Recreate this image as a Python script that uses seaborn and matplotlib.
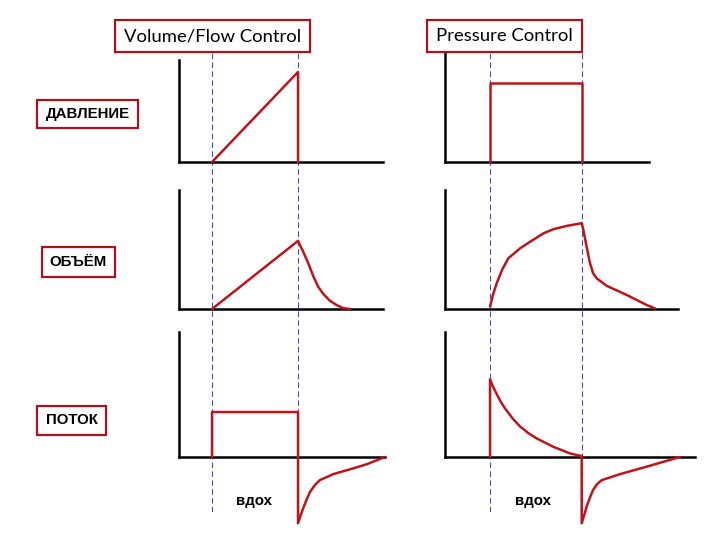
import matplotlib
matplotlib.use("Agg")
import matplotlib.pyplot as plt
import seaborn as sns
from matplotlib.patches import Rectangle

# waveforms, time in s (inspiration 0..2), values in arbitrary units
vc_press_t = [0, 2, 2]
vc_press_v = [0, 3.0, 0]

pc_press_t = [0, 0, 2, 2]
pc_press_v = [0, 2.63, 2.63, 0]

vc_vol_t = [0, 2.0, 2.12, 2.24, 2.36, 2.47, 2.59, 2.74, 2.9, 3.05, 3.21]
vc_vol_v = [0, 2.27, 1.91, 1.52, 1.08, 0.74, 0.5, 0.28, 0.13, 0.03, 0]

pc_vol_t = [0, 0.07, 0.145, 0.27, 0.398, 0.652, 0.87, 1.159, 1.377, 1.667, 1.993,
            2.03, 2.1, 2.17, 2.24, 2.32, 2.54, 2.97, 3.41, 3.59]
pc_vol_v = [0.08, 0.5, 0.86, 1.33, 1.69, 2.02, 2.24, 2.52, 2.66, 2.77, 2.86,
            2.63, 2.08, 1.55, 1.2, 1.02, 0.77, 0.47, 0.13, 0.02]

vc_flow_t = [0, 0, 2, 2, 2.06, 2.12, 2.2, 2.28, 2.4, 2.51, 2.82, 3.21, 3.6, 4.02]
vc_flow_v = [0, 1.5, 1.5, -2.21, -1.95, -1.71, -1.42, -1.16, -0.92, -0.77, -0.57,
             -0.41, -0.24, 0]

pc_flow_t = [0, 0, 0.07, 0.145, 0.23, 0.326, 0.5, 0.652, 0.83, 1.015, 1.377, 1.739,
             1.993, 1.993, 2.05, 2.1, 2.17, 2.24, 2.33, 2.43, 2.83, 3.41, 4.13]
pc_flow_v = [0, 2.59, 2.33, 2.1, 1.85, 1.62, 1.27, 1.02, 0.8, 0.62, 0.34, 0.12,
             0.03, -2.21, -1.92, -1.66, -1.36, -1.1, -0.9, -0.77, -0.57, -0.32, 0]

insp_marks = [0, 2]
col_titles = ["Volume/Flow Control", "Pressure Control"]
row_labels = ["ДАВЛЕНИЕ", "ОБЪЁМ", "ПОТОК"]
insp_label = "вдох"

RED = "#c0141c"
BOX = "#a8141e"
W, H = 720, 540

sns.set_style("white")

fig = plt.figure(figsize=(7.2, 5.4), dpi=100)


def frac(x0, y0, x1, y1):
    return [x0 / W, 1 - y1 / H, (x1 - x0) / W, (y1 - y0) / H]


# column geometry: pixel of t=0, pixels per second, left spine pixel
cols = [dict(t0=212, pxs=43, left=179), dict(t0=490, pxs=46, left=445)]
PXV = 30  # pixels per value unit

# (right, top, axis_y, bottom) per panel
panels = [
    [(383, 60, 162, 162), (383, 190, 309, 309), (385, 332, 457, 525)],
    [(649, 53, 162, 162), (678, 190, 309, 309), (695, 332, 457, 525)],
]
data = [
    [(vc_press_t, vc_press_v), (vc_vol_t, vc_vol_v), (vc_flow_t, vc_flow_v)],
    [(pc_press_t, pc_press_v), (pc_vol_t, pc_vol_v), (pc_flow_t, pc_flow_v)],
]

for c, col in enumerate(cols):
    # dashed inspiration markers spanning the whole column
    r0 = panels[c][0][0]
    ov = fig.add_axes(frac(col["left"], 50, r0, 512))
    ov.set_xlim((col["left"] - col["t0"]) / col["pxs"], (r0 - col["t0"]) / col["pxs"])
    for t in insp_marks:
        ov.axvline(t, color="#50508c", lw=0.8, ls=(0, (5, 3)))
    ov.axis("off")
    ov.patch.set_alpha(0)

    for r in range(3):
        right, top, axis_y, bottom = panels[c][r]
        ax = fig.add_axes(frac(col["left"], top, right, bottom))
        ax.patch.set_alpha(0)
        t, v = data[c][r]
        sns.lineplot(x=t, y=v, ax=ax, color=RED, lw=1.8, sort=False,
                     estimator=None, clip_on=False, zorder=3)
        ymax = (axis_y - top) / PXV
        ax.set_xlim((col["left"] - col["t0"]) / col["pxs"],
                    (right - col["t0"]) / col["pxs"])
        ax.set_ylim((axis_y - bottom) / PXV, ymax)
        for s in ["top", "right"]:
            ax.spines[s].set_visible(False)
        for s in ["left", "bottom"]:
            ax.spines[s].set_color("black")
            ax.spines[s].set_linewidth(1.8)
        ax.spines["bottom"].set_position(("data", 0))
        ax.spines["left"].set_bounds(0, ymax)
        ax.set_xticks([])
        ax.set_yticks([])
        ax.set_xlabel("")
        ax.set_ylabel("")


def label_box(x0, y0, x1, y1, text, **kw):
    fig.patches.append(Rectangle((x0 / W, 1 - y1 / H), (x1 - x0) / W, (y1 - y0) / H,
                                 transform=fig.transFigure, fill=True, fc="white",
                                 ec=BOX, lw=1.6, zorder=5))
    fig.text((x0 + x1) / 2 / W, 1 - (y0 + y1) / 2 / H, text, ha="center",
             va="center", zorder=6, **kw)


title_font = dict(family=["Lato", "DejaVu Sans"], fontsize=13.3, color="black")
row_font = dict(family=["Liberation Sans", "DejaVu Sans"], fontsize=10.8,
                color="black", fontweight="bold")

label_box(115, 20, 310, 52, col_titles[0], **title_font)
label_box(427, 20, 582, 52, col_titles[1], **title_font)
label_box(37, 100, 138, 128, row_labels[0], **row_font)
label_box(42, 247, 115, 277, row_labels[1], **row_font)
label_box(37, 406, 106, 435, row_labels[2], **row_font)

fig.text(254 / W, 1 - 501 / H, insp_label, ha="center", va="center", **row_font)
fig.text(533 / W, 1 - 501 / H, insp_label, ha="center", va="center", **row_font)

fig.savefig("out.png", dpi=100)
